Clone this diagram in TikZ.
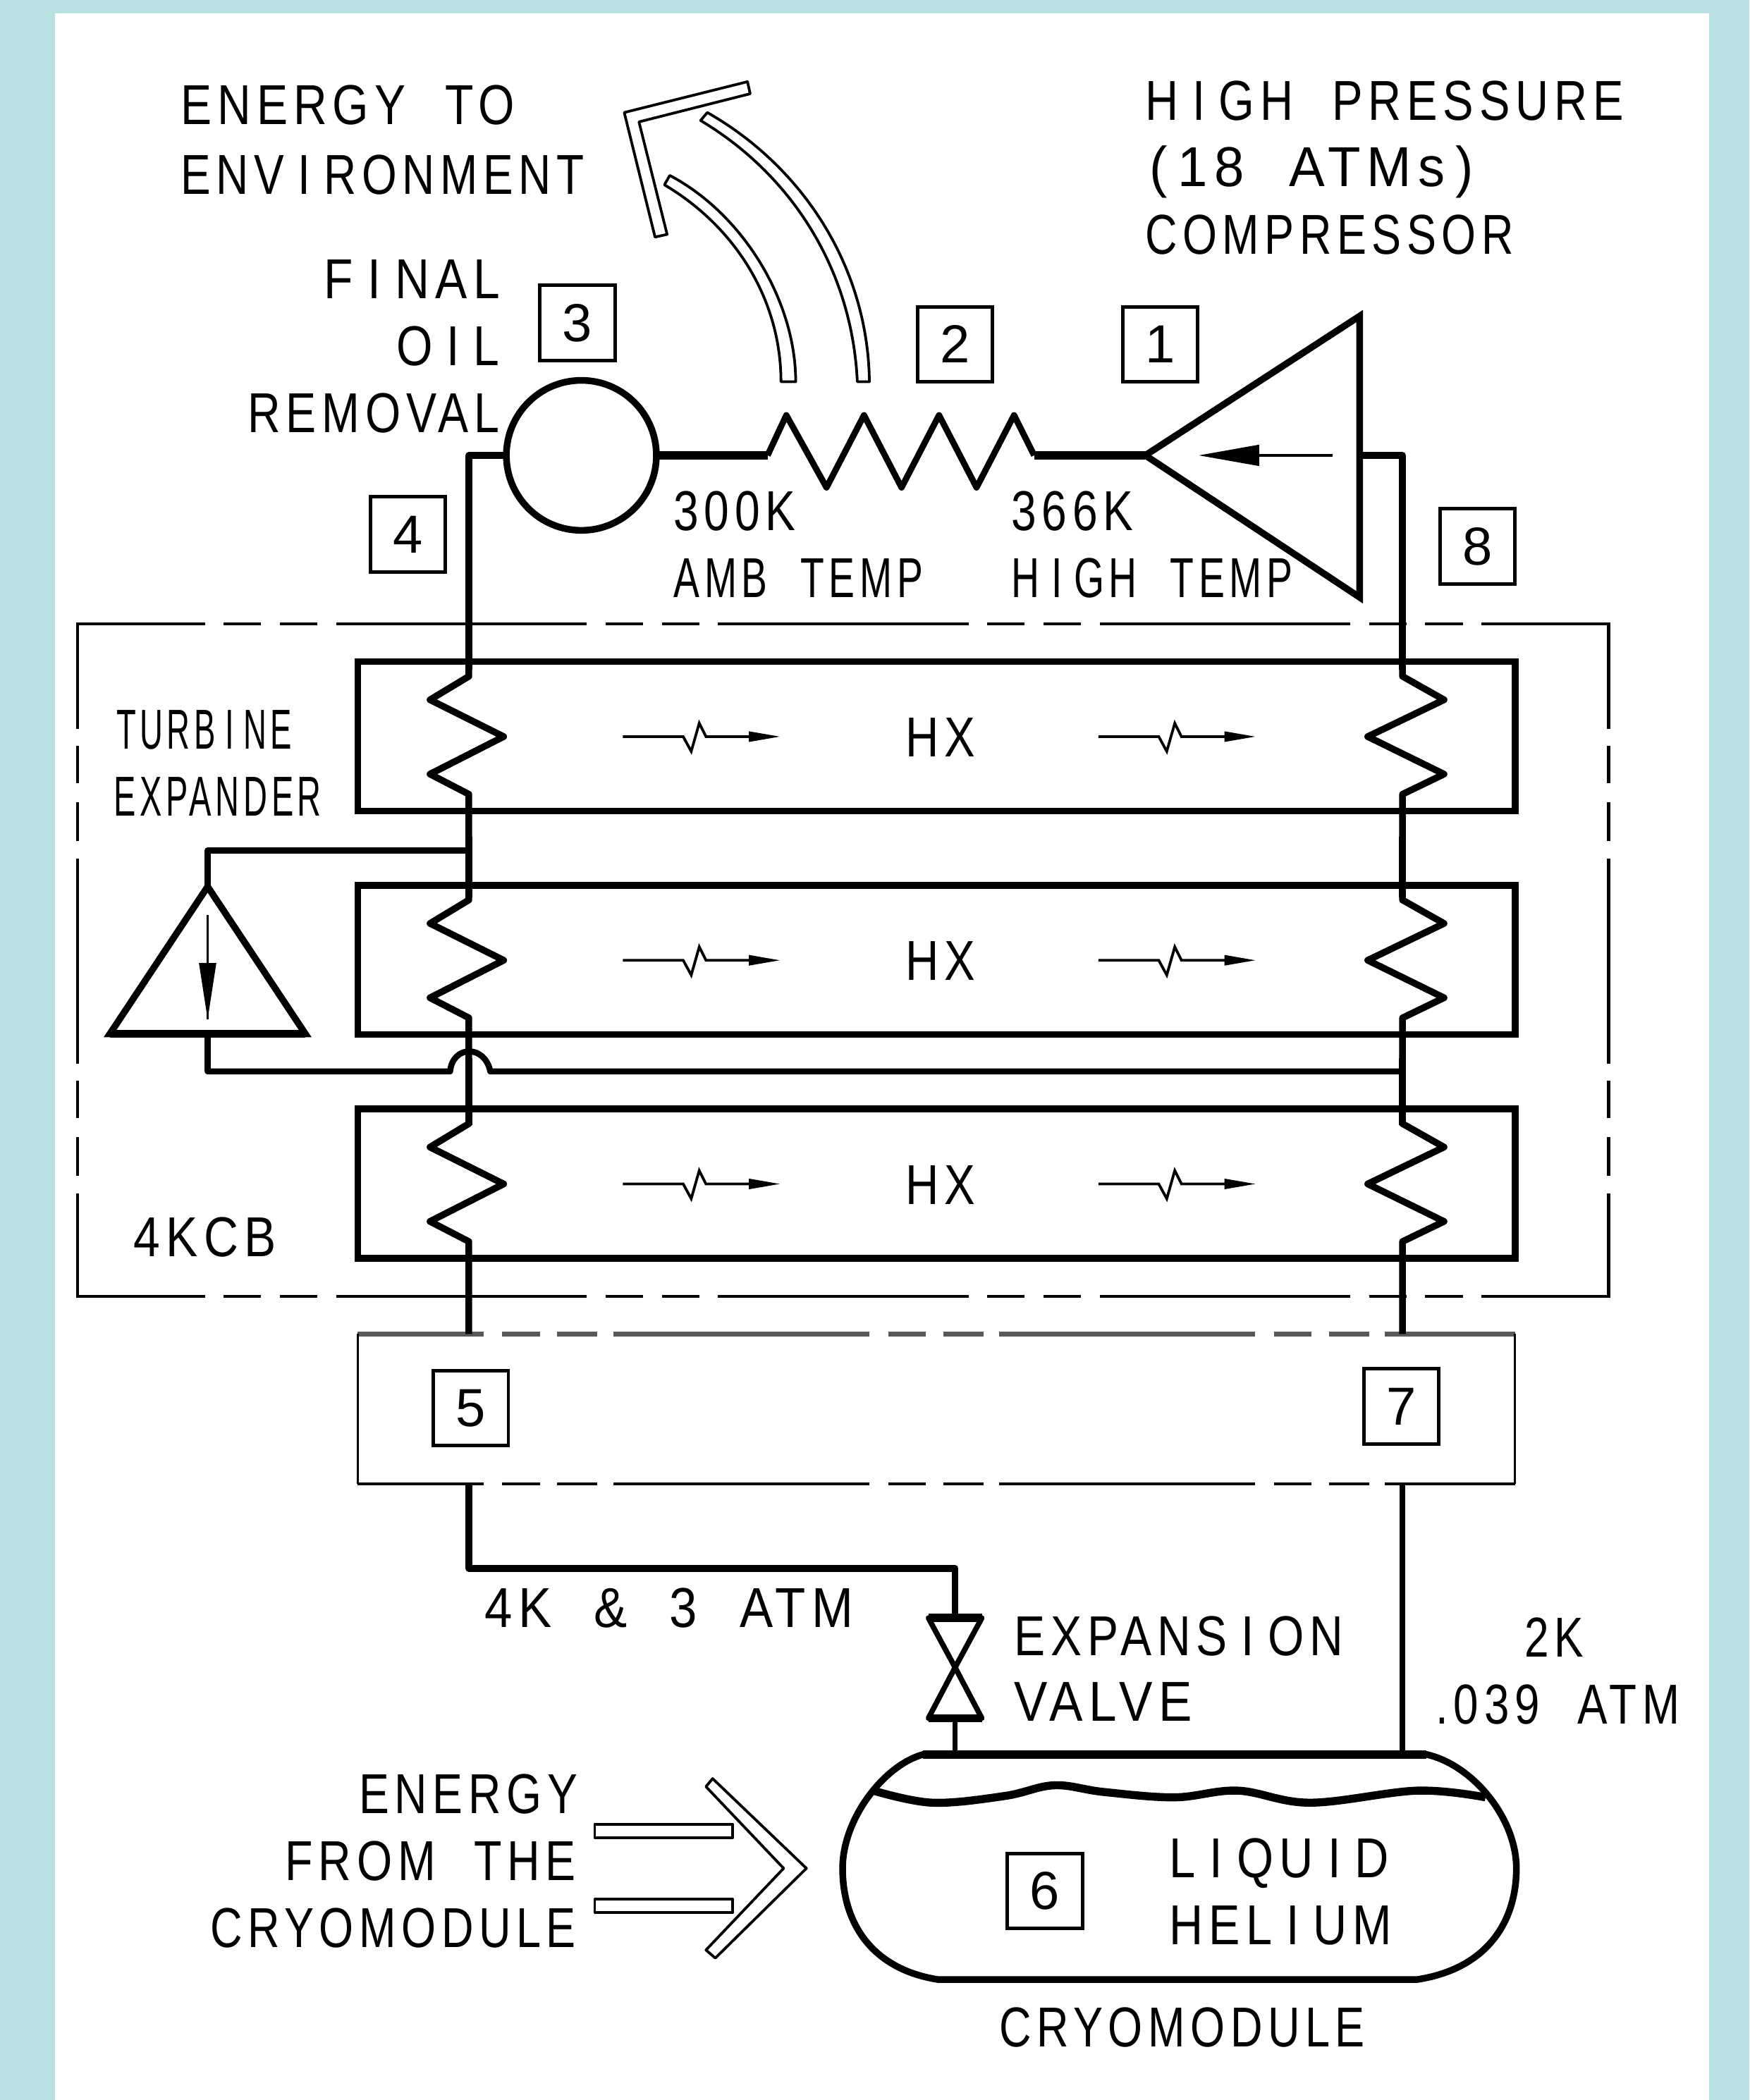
\documentclass[tikz,border=0pt]{standalone}
\usepackage{fontspec}
\usepackage{graphicx}
\setmainfont[LetterSpace=12]{Liberation Sans}
\newfontfamily\numfont{Liberation Sans}
\definecolor{bgblue}{RGB}{185,224,227}
\newcommand{\cadI}{\kern.3em I\kern.3em}
\newcommand{\wg}{\ \hspace{.45em}}
\newcommand{\fit}[2]{\resizebox{#1pt}{\height}{\fontsize{42}{42}\selectfont #2}}
\tikzset{
  cadtext/.style={inner sep=0pt,outer sep=0pt,anchor=base west,text=black},
  numbox/.style={draw=black,line width=2.6pt,minimum width=56pt,minimum height=56pt,inner sep=0pt,outer sep=0pt,font=\numfont\fontsize{40}{40}\selectfont},
  pipe/.style={draw=black,line width=5pt,line join=round},
  heavy/.style={draw=black,line width=6pt,line join=round},
  thinflow/.style={draw=black,line width=2pt},
  hollow/.style={draw=black,line width=2pt,fill=white,line join=round},
  hxbox/.style={draw=black,line width=5pt,line join=miter,outer sep=0pt},
  rundash/.style={draw=black,line width=2.2pt,dash pattern=on 187pt off 14pt on 28pt off 14pt on 28pt off 14pt,dash phase=92pt},
  sidedash/.style={draw=black,line width=2.4pt,dash pattern=on 153pt off 13pt on 28pt off 14pt on 29pt off 13pt,dash phase=74pt},
  coldtop/.style={draw=black!65,line width=3.6pt,dash pattern=on 191pt off 14pt on 28pt off 13pt on 30pt off 12pt,dash phase=97pt},
  coldbottom/.style={draw=black,line width=2.2pt,dash pattern=on 191pt off 14pt on 28pt off 13pt on 30pt off 12pt,dash phase=97pt},
  coldside/.style={draw=black,line width=1.4pt}
}
\begin{document}
\begin{tikzpicture}[x=1pt,y=-1pt]
\useasboundingbox (0,0) rectangle (1306,1568);
\fill[bgblue] (0,0) rectangle (1306,1568);
\fill[white] (41,10) rectangle (1276,1568);

% dashed enclosures
\draw[rundash] (58,466) -- (1201,466);
\draw[rundash] (58,968) -- (1201,968);
\draw[sidedash] (58,465) -- (58,969);
\draw[sidedash] (1201,465) -- (1201,969);
\draw[coldtop] (267,996) -- (1131,996);
\draw[coldbottom] (267,1108) -- (1131,1108);
\draw[coldside] (267,996) -- (267,1108);
\draw[coldside] (1131,996) -- (1131,1108);

% heat exchangers
\foreach \n/\yy in {a/494,b/661,c/828}{
  \node[hxbox,minimum width=864pt,minimum height=111.5pt,inner sep=0pt,anchor=north west] (hx\n) at (267,\yy) {};
}

% named points
\coordinate (cornerTL) at (350,340);
\coordinate (cornerTR) at (1047,340);
\coordinate (compTip) at (855,340);
\coordinate (compBack) at (1015,340);
\coordinate (zigStart) at (573,340);
\coordinate (zigEnd) at (772,340);

% left and right risers through the exchangers
\foreach \yy/\ye in {494/635,661/800,828/996}{
  \draw[pipe] (350,\yy-8) -- (350,\yy+11)
     -- (321,\yy+28.5) -- (376,\yy+56) -- (321,\yy+84) -- (350,\yy+99) -- (350,\ye);
  \draw[pipe] (1047,\yy-8) -- (1047,\yy+11)
     -- (1078,\yy+28.5) -- (1021,\yy+56) -- (1078,\yy+84) -- (1047,\yy+99) -- (1047,\ye);
}
\draw[pipe] (350,625) -- (350,670);
\draw[pipe] (350,790) -- (350,840);
\draw[pipe] (1047,625) -- (1047,670);
\draw[pipe] (1047,790) -- (1047,840);

% top of cycle
\node[draw=black,line width=5pt,circle,minimum size=112pt,inner sep=0pt,outer sep=0pt] (sep) at (434,340) {};
\draw[pipe] (sep.west) -- (cornerTL) -- (350,500);
\draw[heavy] (sep.east) -- (zigStart);
\draw[pipe,line width=4.6pt] (zigStart) -- (587,310) -- (617,364) -- (645,310) -- (673,364) -- (701,310) -- (729,364) -- (757,310) -- (zigEnd);
\draw[heavy] (zigEnd) -- (compTip);
\draw[pipe,line join=miter] (compTip) -- (1015,236) -- (1015,446) -- cycle;
\draw[pipe] (compBack) -- (cornerTR) -- (1047,500);
\draw[thinflow] (995,340) -- (935,340);
\fill[black] (895,340) -- (940,332) -- (940,348) -- cycle;

% turbine expander
\coordinate (turbTop) at (155,662);
\coordinate (turbBase) at (155,772);
\coordinate (tap) at (350,635);
\coordinate (hopIn) at (336,800);
\coordinate (hopOut) at (366,800);
\coordinate (rejoin) at (1047,800);
\draw[pipe,line width=4.5pt] (tap) -- (155,635) -- (turbTop);
\draw[pipe,line join=miter] (turbTop) -- (228,772) -- (82,772) -- cycle;
\draw[heavy] (82,772) -- (228,772);
\draw[pipe,line width=4.5pt] (turbBase) -- (155,800) -- (hopIn) .. controls (338,780) and (362,780) .. (hopOut) -- (rejoin);
\draw[thinflow] (155,683) -- (155,761);
\fill[black] (155,761) -- (148.5,719) -- (161.5,719) -- cycle;

% flow marks in the exchangers
\foreach \yy in {550,717,884}{
  \foreach \xo in {465,820}{
    \draw[line width=2pt] (\xo,\yy) -- (\xo+45,\yy) -- (\xo+51,\yy+11) -- (\xo+57,\yy-10) -- (\xo+62,\yy) -- (\xo+100,\yy);
    \fill[black] (\xo+117,\yy) -- (\xo+94,\yy-4) -- (\xo+94,\yy+4) -- cycle;
  }
}

% lower piping
\coordinate (lowL) at (350,1108);
\coordinate (lowBend) at (350,1171);
\coordinate (valveIn) at (713,1171);
\coordinate (valveTop) at (713,1208);
\coordinate (valveMid) at (713,1245);
\coordinate (valveBot) at (713,1283);
\coordinate (tankIn) at (713,1310);
\coordinate (lowR) at (1047,1108);
\coordinate (tankOut) at (1047,1310);
\draw[pipe] (lowL) -- (lowBend) -- (valveIn) -- (valveTop);
\draw[pipe,line width=4pt] (valveTop) -- (693,1208) -- (valveMid) -- (733,1208) -- cycle;
\draw[pipe,line width=4pt] (valveBot) -- (693,1283) -- (valveMid) -- (733,1283) -- cycle;
\draw[heavy] (693,1208) -- (733,1208);
\draw[heavy] (693,1283) -- (733,1283);
\draw[pipe,line width=4pt] (valveBot) -- (tankIn);
\draw[pipe,line width=4pt] (lowR) -- (tankOut);

% tank
\draw[pipe] (689,1310) .. controls (660,1318) and (629,1358) .. (629,1395)
   .. controls (629,1435) and (650,1470) .. (700,1478) -- (1058,1478)
   .. controls (1110,1470) and (1132,1435) .. (1132,1395)
   .. controls (1132,1358) and (1100,1318) .. (1065,1310) -- cycle;
\draw[draw=black,line width=6pt] (689,1310) -- (1065,1310);
\draw[draw=black,line width=6pt] plot[smooth,tension=.6] coordinates {(652,1337) (696,1346) (750,1341) (787,1333) (824,1338) (877,1342) (924,1337) (978,1346) (1058,1337) (1109,1342)};

% hollow arrows
\draw[hollow] (466,84) -- (558,61) -- (560,70) -- (477,91) -- (498,175) -- (489,177) -- cycle;
\draw[hollow] (583,285) .. controls (583,225) and (550,170) .. (496,138) -- (500,131) .. controls (555,160) and (594,225) .. (594,285) -- cycle;
\draw[hollow] (640,285) .. controls (636,200) and (590,130) .. (523,90) -- (528,84) .. controls (600,125) and (648,200) .. (649,285) -- cycle;
\draw[hollow] (444,1362) rectangle (547,1372);
\draw[hollow] (444,1418) rectangle (547,1428);
\draw[hollow] (532,1328) -- (602,1395) -- (534,1462) -- (527,1456) -- (585,1395) -- (527,1334) -- cycle;

% numbered boxes
\node[numbox] (n1) at (866,257) {1};
\node[numbox] (n2) at (713,257) {2};
\node[numbox] (n3) at (431,241) {3};
\node[numbox] (n4) at (304.5,399) {4};
\node[numbox] (n5) at (351.5,1051.5) {5};
\node[numbox] (n6) at (780,1412) {6};
\node[numbox] (n7) at (1046,1050) {7};
\node[numbox] (n8) at (1103,408) {8};

% labels
\node[cadtext] (tEnergyTo) at (135,93) {\fit{249}{ENERGY\wg TO}};
\node[cadtext] (tEnv) at (135,145) {\fit{301}{ENV\cadI RONMENT}};
\node[cadtext] (tHigh) at (855,90) {\fit{357}{H\cadI GH\wg PRESSURE}};
\node[cadtext] (tAtm) at (858,139) {\fit{242}{(\kern.2em 18\wg ATMs\kern.2em )}};
\node[cadtext] (tComp) at (855,190) {\fit{275}{COMPRESSOR}};
\node[cadtext] (tFinal) at (242,223) {\fit{131}{F\cadI NAL}};
\node[cadtext] (tOil) at (296,273) {\fit{77}{O\cadI L}};
\node[cadtext] (tRem) at (185,323) {\fit{188}{REMOVAL}};
\node[cadtext] (t300) at (503,396) {\fit{91}{300K}};
\node[cadtext] (tAmb) at (503,446) {\fit{186}{AMB\wg TEMP}};
\node[cadtext] (t366) at (755,396) {\fit{91}{366K}};
\node[cadtext] (tHt) at (755,446) {\fit{210}{H\cadI GH\wg TEMP}};
\node[cadtext] (tTurb) at (87,559) {\fit{131}{TURB\cadI NE}};
\node[cadtext] (tExp) at (85,609) {\fit{155}{EXPANDER}};
\node[cadtext] (tHxa) at (676,565) {\fit{52}{HX}};
\node[cadtext] (tHxb) at (676,732) {\fit{52}{HX}};
\node[cadtext] (tHxc) at (676,899) {\fit{52}{HX}};
\node[cadtext] (t4kcb) at (100,938) {\fit{106}{4KCB}};
\node[cadtext] (t4k) at (362,1215) {\fit{275}{4K\wg \&\wg 3\wg ATM}};
\node[cadtext] (tExpn) at (757,1236) {\fit{246}{EXPANS\cadI ON}};
\node[cadtext] (tValve) at (757,1285) {\fit{133}{VALVE}};
\node[cadtext] (t2k) at (1138,1237) {\fit{44}{2K}};
\node[cadtext] (t039) at (1072,1287) {\fit{182}{.039\wg ATM}};
\node[cadtext] (tEf) at (268,1354) {\fit{163}{ENERGY}};
\node[cadtext] (tFrom) at (213,1404) {\fit{217}{FROM\wg THE}};
\node[cadtext] (tCryoL) at (157,1454) {\fit{273}{CRYOMODULE}};
\node[cadtext] (tLiq) at (873,1402) {\fit{164}{L\cadI QU\cadI D}};
\node[cadtext] (tHel) at (873,1452) {\fit{166}{HEL\cadI UM}};
\node[cadtext] (tCryo) at (746,1528) {\fit{273}{CRYOMODULE}};
\end{tikzpicture}
\end{document}
